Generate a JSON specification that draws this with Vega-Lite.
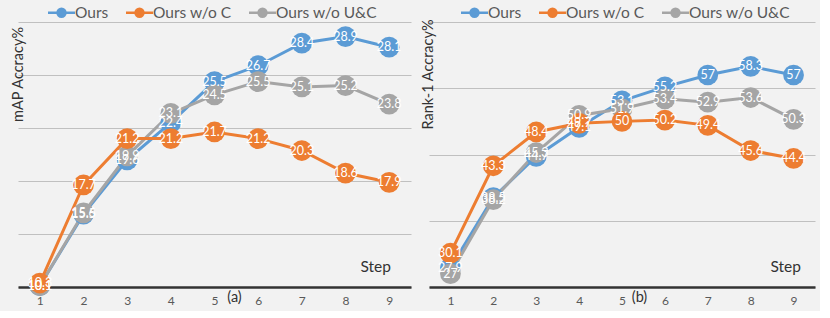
{
  "$schema": "https://vega.github.io/schema/vega-lite/v6.json",
  "background": "#f2f2f2",
  "padding": {"left": 10, "top": 2, "right": 5, "bottom": 5},
  "spacing": 9,
  "config": {
    "view": {"stroke": null},
    "font": "Lato",
    "axis": {"labelFont": "Lato", "titleFont": "Lato", "titleFontWeight": "normal", "titleFontSize": 14.5, "titleColor": "#333333", "labelColor": "#595959", "labelFontSize": 12, "ticks": false, "gridColor": "#c0c0c0", "gridWidth": 1},
    "axisX": {"grid": false, "domainColor": "#333333", "domainWidth": 2.5, "labelAngle": 0, "labelPadding": 8},
    "axisY": {"labels": false, "domain": false, "grid": true},
    "legend": {"orient": "none", "direction": "horizontal", "title": null, "symbolType": "M-1.5,0H1.5M0.44,0A0.44,0.44 0 1,1 -0.44,0A0.44,0.44 0 1,1 0.44,0Z", "symbolSize": 324, "symbolStrokeWidth": 2.5, "labelFont": "Lato", "labelFontSize": 15.5, "labelColor": "#595959", "columnPadding": 12, "labelOffset": 3}
  },
  "resolve": {"scale": {"color": "shared"}, "legend": {"color": "independent"}},
  "datasets": {
    "map": [
      {"step": 1, "series": "Ours", "v": 10.1},
      {"step": 2, "series": "Ours", "v": 15.5},
      {"step": 3, "series": "Ours", "v": 19.6},
      {"step": 4, "series": "Ours", "v": 22.4},
      {"step": 5, "series": "Ours", "v": 25.5},
      {"step": 6, "series": "Ours", "v": 26.7},
      {"step": 7, "series": "Ours", "v": 28.4},
      {"step": 8, "series": "Ours", "v": 28.9},
      {"step": 9, "series": "Ours", "v": 28.1},
      {"step": 1, "series": "Ours w/o U&C", "v": 10.1},
      {"step": 2, "series": "Ours w/o U&C", "v": 15.6},
      {"step": 3, "series": "Ours w/o U&C", "v": 19.9},
      {"step": 4, "series": "Ours w/o U&C", "v": 23.1},
      {"step": 5, "series": "Ours w/o U&C", "v": 24.5},
      {"step": 6, "series": "Ours w/o U&C", "v": 25.5},
      {"step": 7, "series": "Ours w/o U&C", "v": 25.1},
      {"step": 8, "series": "Ours w/o U&C", "v": 25.2},
      {"step": 9, "series": "Ours w/o U&C", "v": 23.8},
      {"step": 1, "series": "Ours w/o C", "v": 10.3},
      {"step": 2, "series": "Ours w/o C", "v": 17.7},
      {"step": 3, "series": "Ours w/o C", "v": 21.2},
      {"step": 4, "series": "Ours w/o C", "v": 21.2},
      {"step": 5, "series": "Ours w/o C", "v": 21.7},
      {"step": 6, "series": "Ours w/o C", "v": 21.2},
      {"step": 7, "series": "Ours w/o C", "v": 20.3},
      {"step": 8, "series": "Ours w/o C", "v": 18.6},
      {"step": 9, "series": "Ours w/o C", "v": 17.9}
    ],
    "rank": [
      {"step": 1, "series": "Ours", "v": 27.9},
      {"step": 2, "series": "Ours", "v": 38.5},
      {"step": 3, "series": "Ours", "v": 44.7},
      {"step": 4, "series": "Ours", "v": 49.1},
      {"step": 5, "series": "Ours", "v": 53.1},
      {"step": 6, "series": "Ours", "v": 55.2},
      {"step": 7, "series": "Ours", "v": 57},
      {"step": 8, "series": "Ours", "v": 58.3},
      {"step": 9, "series": "Ours", "v": 57},
      {"step": 1, "series": "Ours w/o U&C", "v": 27},
      {"step": 2, "series": "Ours w/o U&C", "v": 38.2},
      {"step": 3, "series": "Ours w/o U&C", "v": 45.3},
      {"step": 4, "series": "Ours w/o U&C", "v": 50.9},
      {"step": 5, "series": "Ours w/o U&C", "v": 51.9},
      {"step": 6, "series": "Ours w/o U&C", "v": 53.4},
      {"step": 7, "series": "Ours w/o U&C", "v": 52.9},
      {"step": 8, "series": "Ours w/o U&C", "v": 53.6},
      {"step": 9, "series": "Ours w/o U&C", "v": 50.3},
      {"step": 1, "series": "Ours w/o C", "v": 30.1},
      {"step": 2, "series": "Ours w/o C", "v": 43.3},
      {"step": 3, "series": "Ours w/o C", "v": 48.4},
      {"step": 4, "series": "Ours w/o C", "v": 49.7},
      {"step": 5, "series": "Ours w/o C", "v": 50},
      {"step": 6, "series": "Ours w/o C", "v": 50.2},
      {"step": 7, "series": "Ours w/o C", "v": 49.4},
      {"step": 8, "series": "Ours w/o C", "v": 45.6},
      {"step": 9, "series": "Ours w/o C", "v": 44.4}
    ]
  },
  "hconcat": [
    {
      "width": 393,
      "height": 265,
      "data": {"name": "map"},
      "title": {"text": "Step", "orient": "bottom", "anchor": "end", "dx": -20, "dy": -50, "fontSize": 15.5, "fontWeight": "normal", "color": "#333333", "font": "Lato"},
      "encoding": {
        "x": {"field": "step", "type": "ordinal", "scale": {"type": "point", "padding": 0.5}, "axis": {"title": "(a)", "titleX": 216, "titleY": 10, "titleBaseline": "middle", "titleAlign": "center"}},
        "y": {"field": "v", "type": "quantitative", "scale": {"domain": [10, 30], "nice": false, "zero": false}, "axis": {"values": [10, 14, 18, 22, 26, 30], "title": "mAP Accracy%", "titleX": 0, "titleY": 52, "titleAlign": "center", "titleBaseline": "middle", "titleAngle": -90}},
        "color": {"field": "series", "type": "nominal", "scale": {"domain": ["Ours", "Ours w/o C", "Ours w/o U&C"], "range": ["#5B9BD5", "#ED7D31", "#A5A5A5"]}, "legend": {"legendX": 33, "legendY": -20, "encode": {"symbols": {"update": {"fill": {"scale": "color", "field": "value"}, "stroke": {"scale": "color", "field": "value"}}}}}}
      },
      "layer": [
        {"mark": {"type": "line", "strokeWidth": 3}},
        {"mark": {"type": "circle", "size": 430, "opacity": 1}},
        {"mark": {"type": "text", "fontSize": 12.5, "baseline": "middle", "align": "center", "font": "Lato"}, "encoding": {"text": {"field": "v"}, "color": {"value": "white"}}}
      ]
    },
    {
      "width": 386,
      "height": 265,
      "data": {"name": "rank"},
      "title": {"text": "Step", "orient": "bottom", "anchor": "end", "dx": -14, "dy": -50, "fontSize": 15.5, "fontWeight": "normal", "color": "#333333", "font": "Lato"},
      "encoding": {
        "x": {"field": "step", "type": "ordinal", "scale": {"type": "point", "padding": 0.5}, "axis": {"title": "(b)", "titleX": 210, "titleY": 10, "titleBaseline": "middle", "titleAlign": "center"}},
        "y": {"field": "v", "type": "quantitative", "scale": {"domain": [25, 65], "nice": false, "zero": false}, "axis": {"values": [25, 35, 45, 55, 65], "title": "Rank-1 Accracy%", "titleX": -1, "titleY": 52, "titleAlign": "center", "titleBaseline": "middle", "titleAngle": -90}},
        "color": {"field": "series", "type": "nominal", "legend": {"legendX": 35, "legendY": -20, "encode": {"symbols": {"update": {"fill": {"scale": "color", "field": "value"}, "stroke": {"scale": "color", "field": "value"}}}}}}
      },
      "layer": [
        {"mark": {"type": "line", "strokeWidth": 3}},
        {"mark": {"type": "circle", "size": 430, "opacity": 1}},
        {"mark": {"type": "text", "fontSize": 12.5, "baseline": "middle", "align": "center", "font": "Lato"}, "encoding": {"text": {"field": "v"}, "color": {"value": "white"}}}
      ]
    }
  ]
}
